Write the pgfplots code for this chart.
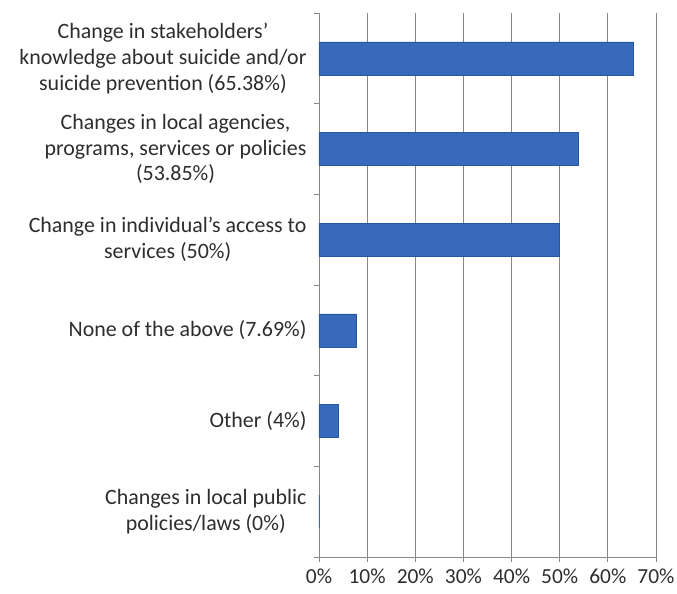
\documentclass[border=0pt]{standalone}
\usepackage{pgfplots}
\pgfplotsset{compat=1.18}
\usepackage{fontspec}
\setmainfont{Carlito}
\definecolor{barblue}{RGB}{56,106,188}
\definecolor{baredge}{RGB}{42,84,156}
\definecolor{gridgray}{RGB}{135,135,135}
\definecolor{txt}{RGB}{45,45,45}
\begin{document}
\begin{tikzpicture}
\begin{axis}[
  name=ax,
  scale only axis,
  width=337bp, height=544bp,
  xbar, bar width=33bp, bar shift=0pt,
  xmin=0, xmax=70,
  ymin=-0.5, ymax=5.5,
  axis lines=left,
  axis line style={gridgray, -},
  xtick={0,10,...,70},
  xticklabels={0\%,10\%,20\%,30\%,40\%,50\%,60\%,70\%},
  xmajorgrids,
  grid style={gridgray, line width=0.8pt},
  x tick style={gridgray, line width=0.8pt},
  tick align=outside,
  major tick length=5bp,
  ytick={0,1,2,3,4,5},
  y tick style={draw=none},
  yticklabels={
    {Changes in local public\\policies/laws (0\%)},
    {Other (4\%)},
    {None of the above (7.69\%)},
    {Change in individual's access to\\services (50\%)},
    {Changes in local agencies,\\programs, services or policies\\(53.85\%)},
    {Change in stakeholders'\\knowledge about suicide and/or\\suicide prevention (65.38\%)}
  },
  extra y ticks={-0.5,0.5,1.5,2.5,3.5,4.5,5.5},
  extra y tick labels={},
  extra y tick style={y tick style={gridgray, line width=0.8pt, draw=gridgray}, major tick length=5bp, grid=none},
  yticklabel style={align=center, font=\fontsize{22}{26}\selectfont, text=txt, xshift=-4bp},
  xticklabel style={font=\fontsize{21.5}{26}\selectfont, text=txt, yshift=-3bp},
]
\addplot[fill=barblue, draw=baredge, line width=0.6pt] coordinates {
  (0,0) (4,1) (7.69,2) (50,3) (53.85,4) (65.38,5)
};
\end{axis}
\pgfresetboundingbox
\path ([shift={(-319bp,-37bp)}]ax.south west) rectangle ([shift={(21bp,13bp)}]ax.north east);
\end{tikzpicture}
\end{document}
